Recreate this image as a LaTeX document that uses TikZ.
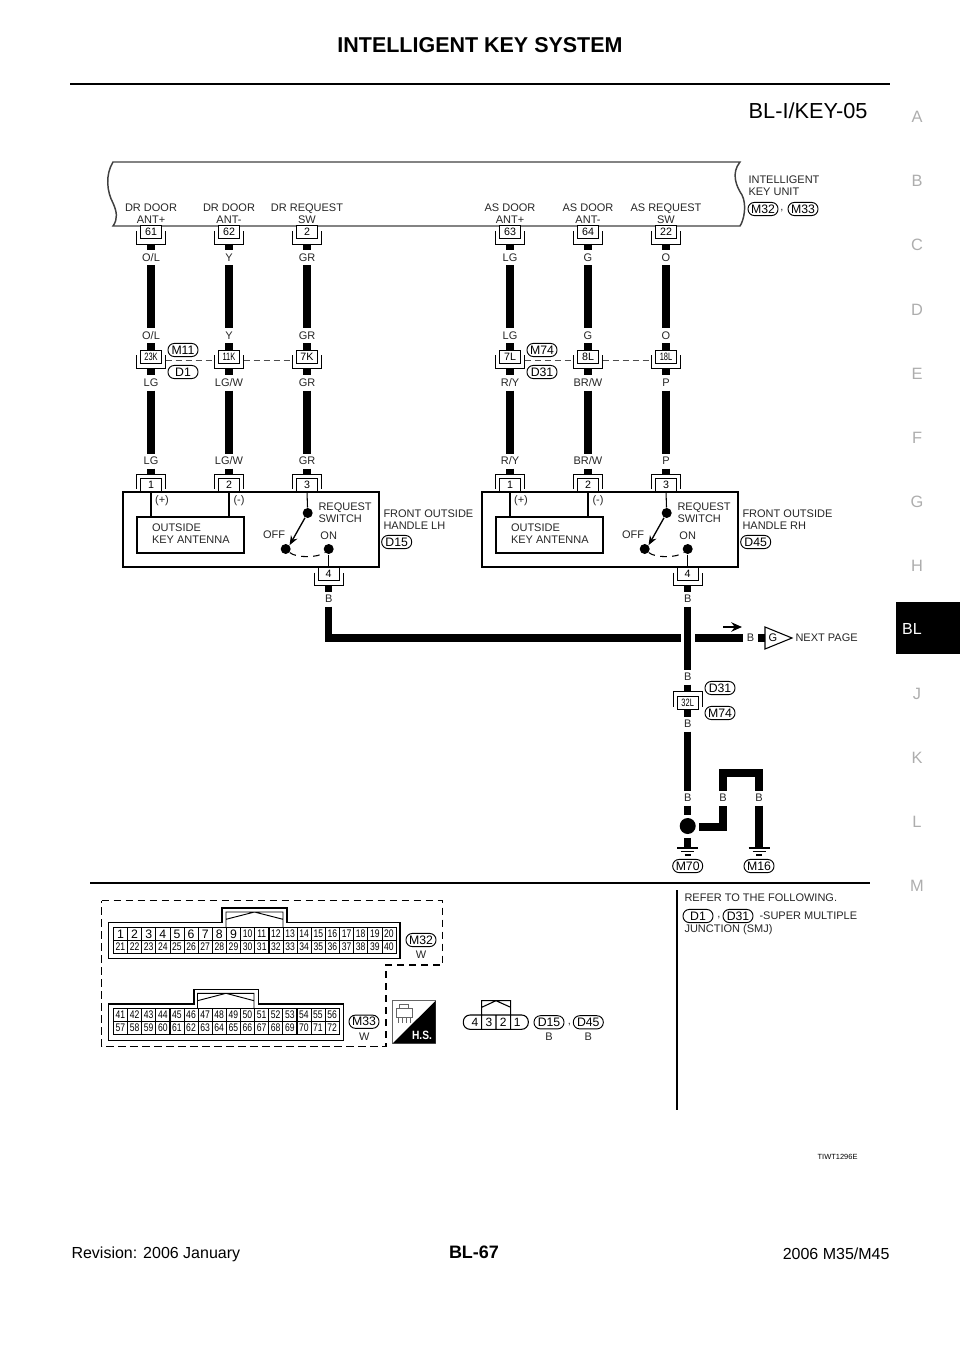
\documentclass[tikz,border=0pt]{standalone}
\usepackage{fontspec}
\setmainfont{Liberation Sans}
\usetikzlibrary{arrows.meta}
\newcommand{\nw}[1]{\scalebox{.7}[1]{#1}}
\newcommand{\nc}[1]{\scalebox{.78}[1]{#1}}
\tikzset{every picture/.style={line width=0.75pt},
	wire/.style={line width=5.4pt,line join=miter},
	thinwire/.style={line width=0.8pt},
	pinline/.style={line width=0.7pt},
	unitline/.style={line width=1.1pt,color=black!75},
	bus/.style={line width=0.8pt,dash pattern=on 4.5pt off 3pt,color=black!70},
	wirelab/.style={font=\fontsize{8.25}{8.7}\selectfont,color=black!85,inner sep=0pt,minimum height=10.5pt},
	txt/.style={font=\fontsize{8.25}{8.7}\selectfont,color=black!85,inner sep=0pt,align=left},
	ctxt/.style={font=\fontsize{8.25}{8.7}\selectfont,color=black!85,inner sep=0pt,align=center},
	pinbox/.style={draw,fill=white,line width=0.7pt,inner sep=0pt,minimum width=15.75pt,minimum height=9.75pt,font=\fontsize{8}{8}\selectfont},
	pill/.style={draw,line width=0.7pt,rounded corners=4.8pt,inner sep=0pt,minimum width=22.5pt,minimum height=9.9pt,font=\fontsize{9.2}{9}\selectfont},
	pincell/.style={draw,line width=0.5pt,inner sep=0pt,minimum width=10.6pt,minimum height=9.8pt,font=\fontsize{8.25}{8}\selectfont},
	bigcell/.style={pincell,font=\fontsize{9.2}{8}\selectfont},
	sideletter/.style={font=\fontsize{12.3}{12}\selectfont,color=black!32,inner sep=0pt},
	foot/.style={font=\fontsize{12}{12}\selectfont,inner sep=0pt}}
% connector with the open bracket below it
\newcommand{\pinU}[4]{%
	\node (#1) [pinbox] at (#2,#3) {#4};
	\draw [pinline,shift={(#2,#3)}] (-14.5,-1) -- (-14.5,12) -- (14.5,12) -- (14.5,-1);
	\coordinate (#1out) at (#2,#3+12);
	\coordinate (#1l) at (#2-14.5,#3+4);
	\coordinate (#1r) at (#2+14.5,#3+4);}
% connector with the open bracket above it
\newcommand{\pinN}[4]{%
	\node (#1) [pinbox] at (#2,#3) {#4};
	\draw [pinline,shift={(#2,#3)}] (-14.5,4) -- (-14.5,-11) -- (14.5,-11) -- (14.5,4);
	\coordinate (#1out) at (#2,#3-11);}
\newcommand{\ground}[2]{%
	\coordinate (#1) at (#2,848);
	\draw [thinwire,shift={(#2,0)}] (-10.5,848) -- (10.5,848) (-6.5,851.7) -- (6.5,851.7) (-3,855) -- (3,855);}

\begin{document}
\begin{tikzpicture}[x=0.75pt,y=0.75pt,yscale=-1]
	\useasboundingbox (0,0) rectangle (960,1358);

	% Page header
	\node (title) [inner sep=0pt,font=\fontsize{16.1}{16}\selectfont\bfseries] at (480,45) {INTELLIGENT KEY SYSTEM};
	\draw [line width=1.9pt] (70,84) -- (890,84);
	\node (pageref) [anchor=east,inner sep=0pt,font=\fontsize{16.3}{16}\selectfont] at (868,111) {BL-I/KEY-05};

	% Side index
	\foreach \c/\y in {A/117,B/181,C/245,D/310,E/374,F/438,G/502,H/566,J/694,K/758,L/822,M/886}{
		\node (side\c) [sideletter] at (917,\y) {\c};
	}
	\fill (896,602) rectangle (960,654);
	\node (sideBL) [foot,color=white] at (912,629) {BL};

	%Shape: Unit
	\draw [unitline] (113,162) -- (740,162) .. controls (731,173) and (736,186) .. (742,195) .. controls (747,205) and (744,220) .. (740,226) -- (113,226) .. controls (118,219) and (117,212) .. (113,203) .. controls (107,192) and (105,175) .. (113,162) -- cycle;
	\node (unitname) [txt,anchor=west] at (748,186) {INTELLIGENT\\KEY UNIT};
	\node (m32a) [pill] at (763,209) {M32};
	\node (comma1) [txt] at (782,211) {,};
	\node (m33a) [pill] at (803,209) {M33};
	\node (drplus) [ctxt] at (151,213.5) {DR DOOR\\ANT+};
	\node (drminus) [ctxt] at (229,213.5) {DR DOOR\\ANT-};
	\node (drsw) [ctxt] at (307,213.5) {DR REQUEST\\SW};
	\node (asplus) [ctxt] at (510,213.5) {AS DOOR\\ANT+};
	\node (asminus) [ctxt] at (588,213.5) {AS DOOR\\ANT-};
	\node (assw) [ctxt] at (666,213.5) {AS REQUEST\\SW};

	%Shape: Wire columns
	\foreach \id/\x/\ptop/\wup/\pmid/\wlow/\pend in {
		a/151/61/{O/L}/{\nw{23K}}/LG/1,
		b/229/62/Y/{\nw{11K}}/{LG/W}/2,
		c/307/2/GR/7K/GR/3,
		d/510/63/LG/7L/{R/Y}/1,
		e/588/64/G/8L/{BR/W}/2,
		f/666/22/O/{\nw{18L}}/P/3}{
		\pinU{ptop\id}{\x}{232}{\ptop}
		\pinU{pmid\id}{\x}{356.5}{\pmid}
		\pinN{pend\id}{\x}{485}{\pend}
		\node (wa\id) [wirelab] at (\x,258) {\wup};
		\node (wb\id) [wirelab] at (\x,336) {\wup};
		\node (wc\id) [wirelab] at (\x,383) {\wlow};
		\node (wd\id) [wirelab] at (\x,461) {\wlow};
		\draw [wire] (ptop\id out) -- (wa\id.north) (wa\id.south) -- (wb\id.north) (wb\id.south) -- (pmid\id.north);
		\draw [wire] (pmid\id out) -- (wc\id.north) (wc\id.south) -- (wd\id.north) (wd\id.south) -- (pend\id out);
	}
	\draw [bus] (pmidar) -- (pmidbl) (pmidbr) -- (pmidcl);
	\draw [bus] (pmiddr) -- (pmidel) (pmider) -- (pmidfl);
	\node (m11) [pill] at (183,350) {M11};
	\node (d1) [pill] at (183,372) {D1};
	\node (m74) [pill] at (542,350) {M74};
	\node (d31) [pill] at (542,372) {D31};

	%Shape: Door handles
	\foreach \s/\dx/\con/\nm/\pa/\pb/\pc in {L/0/D15/LH/a/b/c,R/359/D45/RH/d/e/f}{
		\begin{scope}[shift={(\dx,0)}]
			\node (frame\s) [draw,line width=0.9pt,inner sep=0pt,minimum width=192pt,minimum height=56.25pt] at (251,529.5) {};
			\node (ant\s) [draw,line width=0.8pt,inner sep=0pt,minimum width=80.25pt,minimum height=27pt] at (190.5,535) {};
			\draw [thinwire] (pend\pa.south) -- (pend\pa.south |- ant\s.north);
			\draw [thinwire] (pend\pb.south) -- (pend\pb.south |- ant\s.north);
			\node (anttxt\s) [txt,anchor=west] at (151.5,533.7) {OUTSIDE\\KEY ANTENNA};
			\node (plus\s) [txt] at (162,501) {(+)};
			\node (minus\s) [txt] at (239,501) {(-)};
			\node (dotc\s) [circle,fill,inner sep=0pt,minimum size=7.5pt] at (307.7,513) {};
			\node (dotoff\s) [circle,fill,inner sep=0pt,minimum size=7.5pt] at (285.7,549) {};
			\node (doton\s) [circle,fill,inner sep=0pt,minimum size=7.5pt] at (328.7,549) {};
			\draw [thinwire] (pend\pc.south) -- (dotc\s);
			\draw [line width=1pt,-{Stealth[length=7pt,width=5.5pt]}] (dotc\s) -- (dotoff\s.north east);
			\draw [thinwire,dash pattern=on 5pt off 4pt] (dotoff\s) .. controls (296,558) and (318,558) .. (doton\s);
			\node (sw\s) [txt,anchor=west] at (318,512.5) {REQUEST\\SWITCH};
			\node (off\s) [txt] at (274,535) {OFF};
			\node (on\s) [txt] at (328.7,536) {ON};
			\pinU{pfour\s}{328.7}{573.5}{4}
			\draw [thinwire] (doton\s) -- (pfour\s.north);
			\node (hname\s) [txt,anchor=west] at (383,519.7) {FRONT OUTSIDE\\HANDLE \nm};
			\node (hcon\s) [pill] at (396.7,542) {\con};
			\node (wb\s) [wirelab] at (328.7,599) {B};
			\draw [wire] (pfour\s out) -- (wb\s.north);
		\end{scope}
	}

	%Shape: Ground branch
	\coordinate (gapa) at (680.7,638);
	\coordinate (gapb) at (695,638);
	\coordinate (gapc) at (743,638);
	\coordinate (gapd) at (758,638);
	\coordinate (gape) at (765,638);
	\node (wnext) [wirelab] at (750.5,638) {B};
	\node (gnext) [inner sep=0pt,font=\fontsize{8.25}{8}\selectfont] at (773,638) {G};
	\draw [line width=0.8pt] (765,627) -- (765,649) -- (792,638) -- cycle;
	\node (nextpage) [txt,anchor=west] at (795,638) {NEXT PAGE};
	\draw [wire] (wbL.south) |- (gapa);
	\draw [wire] (gapb) -- (gapc);
	\draw [wire] (gapd) -- (gape);
	\coordinate (flowa) at (723,627);
	\coordinate (flowb) at (742,627);
	\draw [line width=1.4pt,-{Stealth[length=8pt,width=7pt]}] (flowa) -- (flowb);
	\node (wj) [wirelab] at (687.7,677) {B};
	\pinN{pjoin}{687.7}{702.5}{\nw{32L}}
	\node (wk) [wirelab] at (687.7,724) {B};
	\node (wl) [wirelab] at (687.7,798) {B};
	\node (d31b) [pill] at (720,688) {D31};
	\node (m74b) [pill] at (720,713) {M74};
	\draw [wire] (wbR.south) -- (wj.north) (wj.south) -- (pjoinout);
	\draw [wire] (pjoin.south) -- (wk.north) (wk.south) -- (wl.north);
	\node (dotgnd) [circle,fill,inner sep=0pt,minimum size=12pt] at (687.7,826) {};
	\coordinate (dgtop) at (687.7,815);
	\coordinate (dgbot) at (687.7,838);
	\coordinate (dgright) at (699,827);
	\ground{gnda}{687.7}
	\ground{gndb}{759}
	\draw [wire] (wl.south) -- (dgtop);
	\draw [wire] (dgbot) -- (gnda);
	\node (wm) [wirelab] at (723,798) {B};
	\node (wn) [wirelab] at (759,798) {B};
	\draw [wire] (dgright) -| (wm.south);
	\draw [wire] (wm.north) |- (741,773) -| (wn.north);
	\draw [wire] (wn.south) -- (gndb);
	\node (m70) [pill] at (687.7,866) {M70};
	\node (m16) [pill] at (759,866) {M16};

	% Connector views
	\draw [line width=1.3pt] (90,883) -- (870,883);
	\draw [line width=0.9pt] (677,890) -- (677,1110);
	\draw [line width=0.9pt,dash pattern=on 5.5pt off 3.5pt] (101.7,900.7) -- (442.7,900.7) -- (442.7,965) -- (386,965) -- (386,1046.7) -- (101.7,1046.7) -- cycle;

	%Shape: M32 connector
	\draw [line width=0.8pt] (108.3,922.3) -- (222,922.3) -- (222,908) -- (287,908) -- (287,922.3) -- (400,922.3) -- (400,958.3) -- (108.3,958.3) -- cycle;
	\draw [pinline] (226,927) -- (226,912) -- (283,912) -- (283,927) (226,919.3) -- (254.5,912) -- (283,919.3);
	\foreach \n in {1,...,9}{
		\node (cell\n) [bigcell] at ({113.4+14.13*(\n-0.5)},934) {\n};
	}
	\foreach \n in {10,...,20}{
		\node (cell\n) [pincell] at ({113.4+14.13*(\n-0.5)},934) {\nc{\n}};
	}
	\foreach \n in {21,...,40}{
		\node (cell\n) [pincell] at ({113.4+14.13*(\n-20.5)},947) {\nc{\n}};
	}
	\node (m32b) [pill] at (421,940) {M32};
	\node (wm32) [txt] at (421,955) {W};

	%Shape: M33 connector
	\draw [line width=0.8pt] (108.3,1004) -- (194,1004) -- (194,989.3) -- (258.3,989.3) -- (258.3,1004) -- (343.3,1004) -- (343.3,1040.7) -- (108.3,1040.7) -- cycle;
	\draw [pinline] (197.5,1008) -- (197.5,993.3) -- (254,993.3) -- (254,1008) (197.5,1000.7) -- (226,993.3) -- (254,1000.7);
	\foreach \n in {41,...,56}{
		\node (cell\n) [pincell] at ({113.4+14.11*(\n-40.5)},1015) {\nc{\n}};
	}
	\foreach \n in {57,...,72}{
		\node (cell\n) [pincell] at ({113.4+14.11*(\n-56.5)},1028) {\nc{\n}};
	}
	\node (m33b) [pill] at (364,1021.7) {M33};
	\node (wm33) [txt] at (364.3,1036.7) {W};

	%Shape: Harness side mark
	\draw [line width=0.5pt,color=black!60] (392.7,1000.7) rectangle (435.7,1043.3);
	\fill (435.7,1000.7) -- (435.7,1043.3) -- (392.7,1043.3) -- cycle;
	\draw [line width=0.4pt,color=black!60] (396,1008) -- (412,1008) -- (412,1017) -- (396,1017) -- cycle (399,1008) -- (399,1004) -- (408,1004) -- (408,1008) (398,1017) -- (398,1023) (402,1017) -- (402,1023) (406,1017) -- (406,1023) (410,1017) -- (410,1023);
	\node (hs) [inner sep=0pt,color=white,font=\fontsize{9}{9}\selectfont\bfseries] at (422,1035) {\scalebox{.85}[1]{H.S.}};

	%Shape: Handle connector
	\draw [line width=0.8pt,rounded corners=5pt] (481.7,1015) -- (463.3,1015) -- (463.3,1029.3) -- (528.3,1029.3) -- (528.3,1015) -- (510.7,1015);
	\draw [line width=0.8pt] (481.7,1029.3) -- (481.7,1000.7) -- (510.7,1000.7) -- (510.7,1029.3) (496,1015) -- (496,1029.3) (481.7,1015) -- (510.7,1015) (481.7,1007.3) -- (496,1000.7) -- (510.7,1007.3);
	\foreach \n/\x in {4/475,3/489,2/503.3,1/517.3}{
		\node (hpin\n) [inner sep=0pt,font=\fontsize{9}{8}\selectfont] at (\x,1022.3) {\n};
	}
	\node (d15b) [pill] at (549,1022.3) {D15};
	\node (comma2) [txt] at (569.3,1025) {,};
	\node (d45b) [pill] at (588.3,1022.3) {D45};
	\node (bd15) [txt] at (549,1036.7) {B};
	\node (bd45) [txt] at (588.3,1036.7) {B};

	%Shape: Note
	\node (refer) [txt,anchor=west] at (684,898) {REFER TO THE FOLLOWING.};
	\node (d1b) [pill] at (698,916) {D1};
	\node (comma3) [txt] at (719,918) {,};
	\node (d31c) [pill] at (738,916) {D31};
	\node (smj) [txt,anchor=west] at (759,916) {-SUPER MULTIPLE};
	\node (smjb) [txt,anchor=west] at (684,930) {JUNCTION (SMJ)};
	\node (figid) [anchor=east,inner sep=0pt,font=\fontsize{5.6}{6}\selectfont] at (858,1157) {TIWT1296E};

	% Page footer
	\node (rev) [foot,anchor=west] at (71,1254) {Revision: 2006 January};
	\node (pageno) [inner sep=0pt,font=\fontsize{13.5}{13}\selectfont\bfseries] at (474,1252) {BL-67};
	\node (model) [foot,anchor=east] at (890,1254) {2006 M35/M45};
\end{tikzpicture}
\end{document}
